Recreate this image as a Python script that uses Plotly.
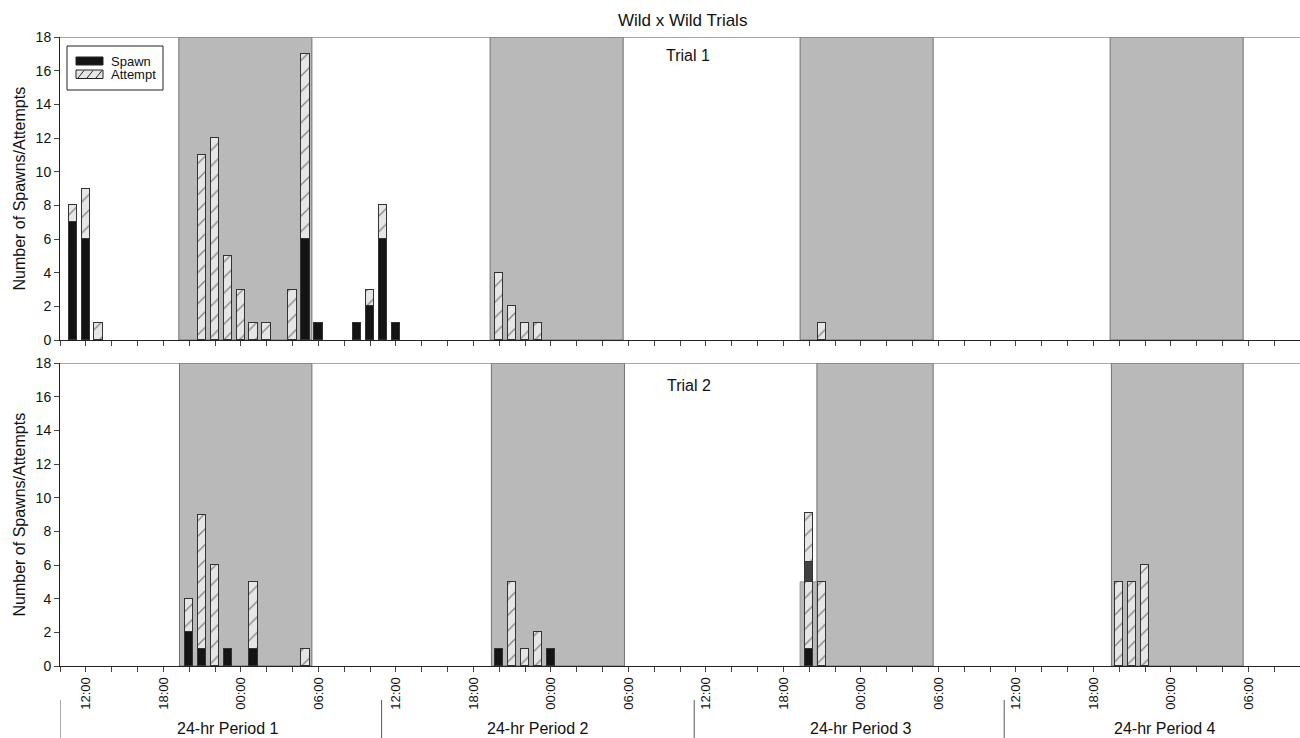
import plotly.graph_objects as go
from plotly.subplots import make_subplots

# ---- data (x = hours since 10:00 on day 1) ----
t1_hours = [1, 2, 3, 11, 12, 13, 14, 15, 16, 18, 19, 20, 23, 24, 25, 26, 34, 35, 36, 37, 59]
t1_spawn = [7, 6, 0, 0, 0, 0, 0, 0, 0, 0, 6, 1, 1, 2, 6, 1, 0, 0, 0, 0, 0]
t1_attempt = [1, 3, 1, 11, 12, 5, 3, 1, 1, 3, 11, 0, 0, 1, 2, 0, 4, 2, 1, 1, 1]

t2_hours = [10, 11, 12, 13, 15, 19, 34, 35, 36, 37, 38, 58, 59, 82, 83, 84]
t2_spawn = [2, 1, 0, 1, 1, 0, 1, 0, 0, 0, 1, 1, 0, 0, 0, 0]
t2_attempt = [2, 8, 6, 0, 4, 1, 0, 5, 1, 2, 0, 4, 5, 5, 5, 6]
# odd overlaid segment in trial 2 at hour 58
t2_extra_hours = [58]
t2_extra_dark = [1.2]
t2_extra_attempt = [2.9]

# dark (night) periods per trial, in hours since start
t1_night = [(9.2, 19.5), (33.3, 43.6), (57.3, 67.6), (81.3, 91.6)]
t2_night = [(9.25, 19.5), (33.4, 43.7), (58.6, 67.6), (81.4, 91.6)]
t2_gray_bar = (57.3, 58.6, 5)

tick_hours = list(range(0, 97, 2))
start_clock = 10
period_names = ["24-hr Period 1", "24-hr Period 2", "24-hr Period 3", "24-hr Period 4"]
period_centers = [13.0, 36.95, 62.0, 85.5]
period_bounds = [0, 24.9, 49.1, 73.1]
legend_names = ["Spawn", "Attempt"]

def nz(v):
    return [x if x != 0 else None for x in v]

def tick_label(h):
    if (h - 2) % 6 == 0:
        return "%02d:00" % ((start_clock + h) % 24)
    return ""

W, H = 1300, 738
ML, MR, MT, MB = 60, 0, 37, 72
PW = W - ML - MR
PH = H - MT - MB

def px_x(p):
    return (p - ML) / PW

def px_y(p):
    return (H - MB - p) / PH

fig = make_subplots(rows=2, cols=1, shared_xaxes=True)

BW = 0.66
SPAWN_C = "#141414"
ATT_BG = "#e6e6e6"
EDGE = "#333333"
pattern = dict(shape="/", fgcolor="#222222", bgcolor=ATT_BG, size=11, solidity=0.12)

for row, hrs, sp, at in [(1, t1_hours, t1_spawn, t1_attempt), (2, t2_hours, t2_spawn, t2_attempt)]:
    fig.add_trace(go.Bar(x=hrs, y=nz(sp), width=BW, name=legend_names[0], showlegend=False,
                         marker=dict(color=SPAWN_C, line=dict(color=EDGE, width=1))), row=row, col=1)
    fig.add_trace(go.Bar(x=hrs, y=nz(at), width=BW, name=legend_names[1], showlegend=False,
                         marker=dict(color=ATT_BG, pattern=pattern, line=dict(color=EDGE, width=1))),
                  row=row, col=1)

fig.add_trace(go.Bar(x=t2_extra_hours, y=t2_extra_dark, width=BW, showlegend=False,
                     marker=dict(color="#404040", line=dict(color=EDGE, width=1))), row=2, col=1)
fig.add_trace(go.Bar(x=t2_extra_hours, y=t2_extra_attempt, width=BW, showlegend=False,
                     marker=dict(color=ATT_BG, pattern=pattern, line=dict(color=EDGE, width=1))),
              row=2, col=1)

# night shading
shapes = []
for (a, b) in t1_night:
    shapes.append(dict(type="rect", xref="x", yref="y", x0=a, x1=b, y0=0, y1=18,
                       fillcolor="#b9b9b9", line=dict(color="#707070", width=1), layer="below"))
for (a, b) in t2_night:
    shapes.append(dict(type="rect", xref="x2", yref="y2", x0=a, x1=b, y0=0, y1=18,
                       fillcolor="#b9b9b9", line=dict(color="#707070", width=1), layer="below"))
ga, gb, gh = t2_gray_bar
shapes.append(dict(type="rect", xref="x2", yref="y2", x0=ga, x1=gb, y0=0, y1=gh,
                   fillcolor="#b9b9b9", line=dict(color="#9a9a9a", width=1), layer="below"))
# top border lines of each panel
for yr in ["y", "y2"]:
    shapes.append(dict(type="line", xref="paper", yref=yr, x0=0, x1=1, y0=18, y1=18,
                       line=dict(color="#8a8a8a", width=1.5)))
# period separators below axis
for pb in period_bounds:
    shapes.append(dict(type="line", xref="x2", yref="paper", x0=pb, x1=pb,
                       y0=px_y(700), y1=px_y(738), line=dict(color="#555555", width=1)))

# manual legend box (paper coords)
shapes.append(dict(type="rect", xref="paper", yref="paper", x0=px_x(67), x1=px_x(163),
                   y0=px_y(90), y1=px_y(46), fillcolor="white", line=dict(color="#222", width=1)))
shapes.append(dict(type="rect", xref="paper", yref="paper", x0=px_x(76), x1=px_x(103),
                   y0=px_y(65), y1=px_y(57), fillcolor=SPAWN_C, line=dict(color="#222", width=1)))
shapes.append(dict(type="rect", xref="paper", yref="paper", x0=px_x(76), x1=px_x(103),
                   y0=px_y(78.5), y1=px_y(70), fillcolor=ATT_BG, line=dict(color="#222", width=1)))
for sx in [78, 87, 96]:
    shapes.append(dict(type="line", xref="paper", yref="paper", x0=px_x(sx), x1=px_x(sx + 6),
                       y0=px_y(78), y1=px_y(70.5), line=dict(color="#222", width=1)))

def ann(text, x, y, size, xref="paper", yref="paper", xanchor="center", angle=0):
    return dict(text=text, xref=xref, yref=yref, x=x, y=y, xanchor=xanchor, yanchor="middle",
                textangle=angle, showarrow=False, font=dict(size=size, color="#111"))

annotations = [
    ann("Wild x Wild Trials", px_x(682), px_y(20), 17),
    ann("Trial 1", px_x(688), px_y(56), 16),
    ann("Trial 2", px_x(689), px_y(386), 16),
    ann(legend_names[0], px_x(109), px_y(61.5), 13, xanchor="left"),
    ann(legend_names[1], px_x(109), px_y(74.5), 13, xanchor="left"),
]
for yc in [(37 + 340) / 2, (363 + 666) / 2]:
    annotations.append(ann("Number of Spawns/Attempts", px_x(19), px_y(yc), 16, angle=-90))
for name, c in zip(period_names, period_centers):
    annotations.append(ann(name, c, px_y(728), 16, xref="x2"))

top_dom = [px_y(340), 1.0]
bot_dom = [0.0, px_y(363)]

axis_common = dict(showline=True, linecolor="#222", linewidth=1, ticks="outside", ticklen=5,
                   tickcolor="#444", showgrid=False, zeroline=False, automargin=False)

fig.update_layout(
    width=W, height=H, margin=dict(l=ML, r=MR, t=MT, b=MB, autoexpand=False),
    plot_bgcolor="white", paper_bgcolor="white",
    barmode="stack", bargap=0, showlegend=False,
    font=dict(family="Liberation Sans, Arial, sans-serif", size=14, color="#111"),
    shapes=shapes, annotations=annotations,
    xaxis=dict(range=[0, 96], tickvals=tick_hours, ticktext=["" for _ in tick_hours],
               showticklabels=False, anchor="y", **axis_common),
    xaxis2=dict(range=[0, 96], tickvals=tick_hours, ticktext=[tick_label(h) for h in tick_hours],
                tickangle=-90, tickfont=dict(size=13), anchor="y2", **axis_common),
    yaxis=dict(domain=top_dom, range=[0, 18], dtick=2, **axis_common),
    yaxis2=dict(domain=bot_dom, range=[0, 18], dtick=2, **axis_common),
)

fig.write_html("out.html", config={"displayModeBar": False},
               post_script="document.body.style.margin='0';document.body.style.overflow='hidden';")
